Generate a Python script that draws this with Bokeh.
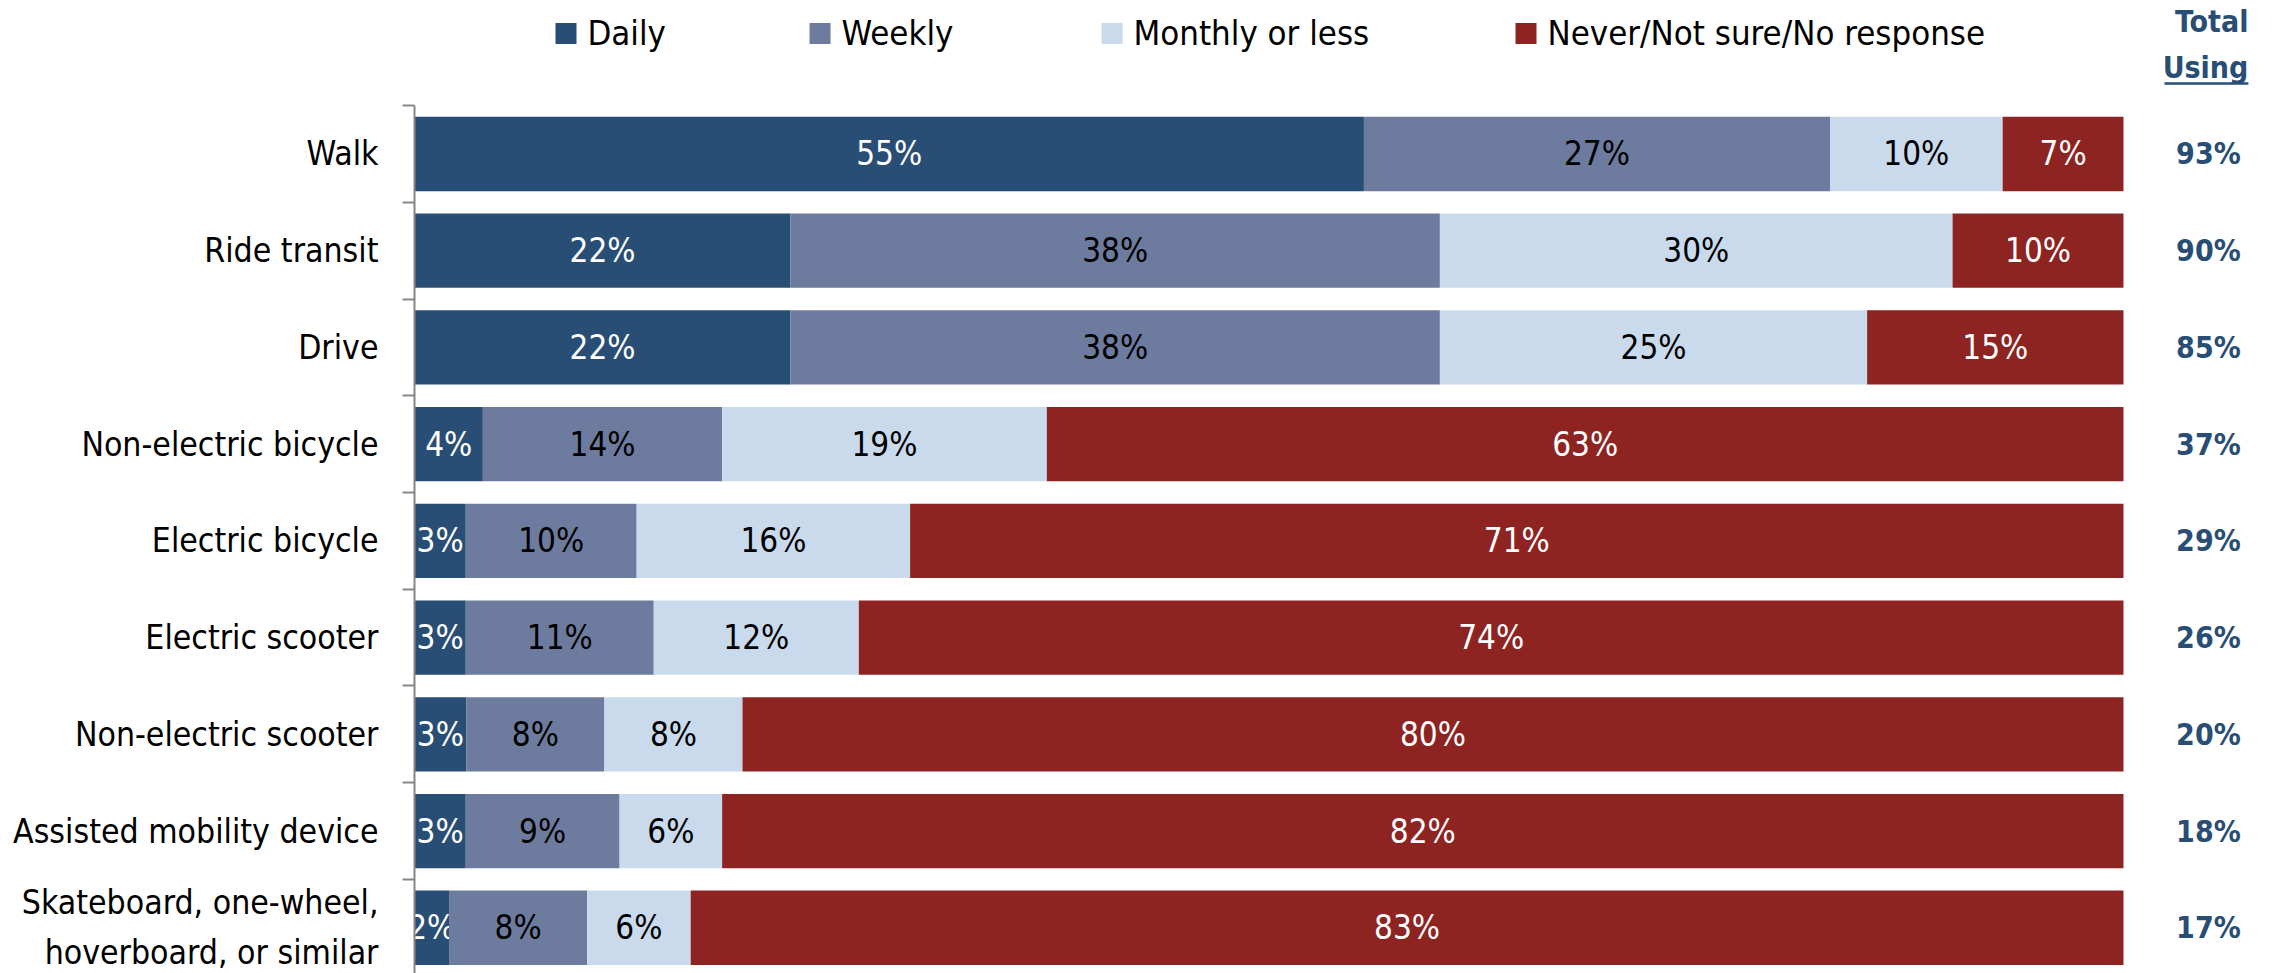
from bokeh.plotting import figure
from bokeh.models import ColumnDataSource, FixedTicker, Range1d
from bokeh.core.properties import value
from bokeh.embed import file_html
from bokeh.resources import INLINE

# ---- data ----
categories = ["Walk", "Ride transit", "Drive", "Non-electric bicycle", "Electric bicycle",
              "Electric scooter", "Non-electric scooter", "Assisted mobility device",
              "Skateboard, one-wheel,\nhoverboard, or similar"]
daily = [55, 22, 22, 4, 3, 3, 3, 3, 2]
weekly = [27, 38, 38, 14, 10, 11, 8, 9, 8]
monthly = [10, 30, 25, 19, 16, 12, 8, 6, 6]
never = [7, 10, 15, 63, 71, 74, 80, 82, 83]
total_using = [93, 90, 85, 37, 29, 26, 20, 18, 17]
series_names = ["Daily", "Weekly", "Monthly or less", "Never/Not sure/No response"]

# ---- style ----
FONT = "DejaVu Sans Condensed"
colors = ["#294e75", "#6d7b9e", "#c9daec", "#8e2422"]
label_colors = ["white", "black", "black", "white"]
total_color = "#294e75"

n = len(categories)
ypos = [n - i for i in range(n)]
series = [daily, weekly, monthly, never]
sums = [sum(s[i] for s in series) for i in range(n)]

p = figure(width=2272, height=973, x_range=Range1d(0, 108.72), y_range=Range1d(0.527, 10.587),
           output_backend="svg", toolbar_location=None, x_axis_location=None,
           min_border_left=414, min_border_right=0, min_border_top=0, min_border_bottom=0)
p.outline_line_color = None
p.grid.visible = False
p.background_fill_color = "white"
p.border_fill_color = "white"

left = [0.0] * n
for k, s in enumerate(series):
    widths = [s[i] / sums[i] * 100 for i in range(n)]
    right = [left[i] + widths[i] for i in range(n)]
    src = ColumnDataSource(dict(
        y=ypos, left=left, right=right,
        mid=[(left[i] + right[i]) / 2 for i in range(n)],
        lab=[f"{v}%" for v in s]))
    p.hbar(y="y", left="left", right="right", height=0.768, source=src,
           fill_color=colors[k], line_color=None)
    p.text(x="mid", y="y", text="lab", source=src, text_align="center", text_baseline="middle",
           text_font=value(FONT), text_font_size="33px", text_color=label_colors[k])
    left = right

# totals column
tsrc = ColumnDataSource(dict(y=ypos, x=[104.97] * n, lab=[f"{v}%" for v in total_using]))
p.text(x="x", y="y", text="lab", source=tsrc, text_align="center", text_baseline="middle",
       text_font=value(FONT), text_font_size="30px", text_font_style="bold", text_color=total_color)
p.text(x=[107.31, 107.31], y=[10.365, 9.894], text=["Total", "Using"], text_align="right",
       text_baseline="middle", text_font=value(FONT), text_font_size="30px",
       text_font_style="bold", text_color=total_color)
p.segment(x0=[102.4], x1=[107.31], y0=[9.729], y1=[9.729], line_color=total_color, line_width=2.5)

# legend (drawn above the bars)
leg_sq_x = [8.865, 23.73, 40.82, 65.04]
leg_tx_x = [10.12, 24.99, 42.07, 66.3]
p.rect(x=leg_sq_x, y=[10.246] * 4, width=21, height=21, width_units="screen", height_units="screen",
       fill_color=colors, line_color=None)
p.text(x=leg_tx_x, y=[10.246] * 4, text=series_names, text_align="left", text_baseline="middle",
       text_font=value(FONT), text_font_size="34.5px", text_color="black")

# y axis
ax = p.yaxis[0]
ax.ticker = FixedTicker(ticks=ypos, minor_ticks=[n + 0.5 - i for i in range(n + 1)])
ax.major_label_overrides = {int(y): c for y, c in zip(ypos, categories)}
ax.major_label_text_font = FONT
ax.major_label_text_font_size = "33.5px"
ax.major_label_text_color = "black"
ax.major_label_text_line_height = 1.28
ax.major_label_standoff = 24
ax.major_tick_out = 0
ax.major_tick_in = 0
ax.minor_tick_out = 12
ax.minor_tick_in = 0
ax.minor_tick_line_color = "#868686"
ax.minor_tick_line_width = 2
ax.axis_line_color = "#868686"
ax.axis_line_width = 2
ax.bounds = (0, n + 0.5)

open("out.html", "w").write(file_html(p, INLINE))
